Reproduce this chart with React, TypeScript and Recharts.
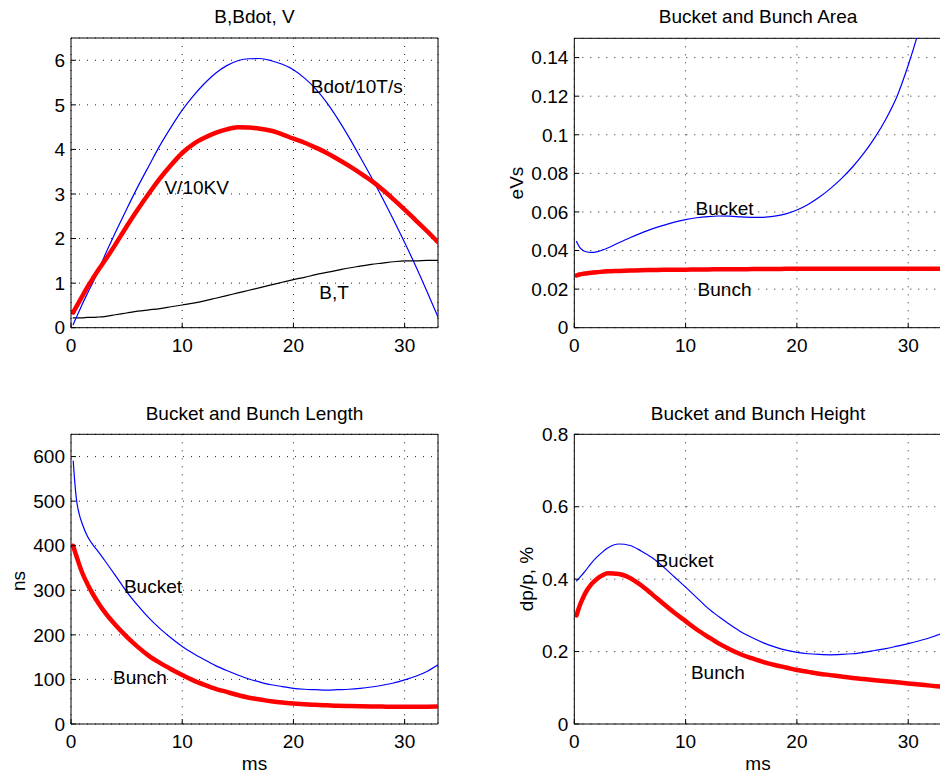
import React from 'react';
import { LineChart, Line, XAxis, YAxis, CartesianGrid, ReferenceDot, ReferenceLine } from 'recharts';

// time samples, ms
const timeMs = [0.2, 0.3, 0.5, 0.75, 1, 1.5, 2, 2.5, 3, 4, 5, 6, 7, 8, 9, 10, 11, 12, 13, 14, 15, 16, 17, 18, 19, 20, 21, 22, 23, 24, 25, 26, 27, 28, 29, 30, 31, 32, 33];

// Panel 1: B, Bdot, V
const bdotOver10 = [0.07, 0.13, 0.24, 0.38, 0.52, 0.78, 1.03, 1.31, 1.6, 2.14, 2.66, 3.16, 3.63, 4.09, 4.5, 4.88, 5.2, 5.48, 5.71, 5.88, 5.99, 6.035, 6.04, 5.99, 5.91, 5.79, 5.6, 5.36, 5.05, 4.68, 4.27, 3.83, 3.38, 2.91, 2.42, 1.91, 1.38, 0.82, 0.24];
const voltOver10k = [0.34, 0.39, 0.48, 0.59, 0.7, 0.92, 1.12, 1.31, 1.49, 1.87, 2.27, 2.65, 3.01, 3.35, 3.65, 3.92, 4.12, 4.26, 4.37, 4.45, 4.495, 4.49, 4.465, 4.42, 4.34, 4.24, 4.15, 4.04, 3.92, 3.78, 3.63, 3.47, 3.3, 3.1, 2.88, 2.65, 2.41, 2.17, 1.92];
const bFieldT = [0.22, 0.22, 0.22, 0.22, 0.22, 0.23, 0.23, 0.24, 0.25, 0.29, 0.33, 0.37, 0.4, 0.43, 0.47, 0.51, 0.55, 0.6, 0.66, 0.72, 0.78, 0.84, 0.9, 0.96, 1.02, 1.08, 1.13, 1.19, 1.24, 1.29, 1.34, 1.38, 1.42, 1.45, 1.48, 1.5, 1.5, 1.51, 1.51];

// Panel 2: bucket and bunch area, eVs
const bucketArea = [0.0447, 0.0435, 0.0415, 0.0402, 0.0395, 0.039, 0.0393, 0.0402, 0.0413, 0.044, 0.0466, 0.049, 0.0512, 0.053, 0.0547, 0.056, 0.057, 0.0576, 0.0579, 0.0578, 0.0574, 0.0572, 0.0572, 0.0578, 0.059, 0.061, 0.0639, 0.0676, 0.0721, 0.0773, 0.0833, 0.0903, 0.0985, 0.1082, 0.12, 0.136, 0.155, 0.178, 0.204];
const bunchArea = [0.0271, 0.0273, 0.0276, 0.0279, 0.0281, 0.0285, 0.0288, 0.029, 0.0292, 0.0294, 0.0296, 0.0298, 0.0299, 0.03, 0.0301, 0.0301, 0.0302, 0.0302, 0.0303, 0.0303, 0.0303, 0.0304, 0.0304, 0.0304, 0.0305, 0.0305, 0.0305, 0.0305, 0.0306, 0.0306, 0.0306, 0.0306, 0.0306, 0.0306, 0.0306, 0.0306, 0.0306, 0.0306, 0.0306];

// Panel 3: bucket and bunch length, ns
const bucketLength = [590, 555, 502, 470, 450, 420, 401, 385, 368, 333, 297, 266, 238, 214, 193, 174, 158, 144, 131, 120, 110, 101, 94, 88, 84, 80, 78, 77, 76, 77, 78, 80, 83, 87, 92, 99, 107, 118, 133];
const bunchLength = [400, 391, 376, 357, 340, 313, 290, 270, 252, 222, 196, 173, 153, 137, 123, 110, 98, 88, 79, 72, 65, 59, 55, 51, 48, 46, 44.5, 43, 42, 41, 40.5, 40, 39.5, 39, 38.5, 38.5, 38.5, 38.8, 39];

// Panel 4: bucket and bunch height, dp/p %
const bucketHeight = [0.395, 0.398, 0.405, 0.414, 0.423, 0.443, 0.46, 0.474, 0.486, 0.497, 0.493, 0.478, 0.459, 0.434, 0.406, 0.378, 0.349, 0.32, 0.296, 0.274, 0.254, 0.238, 0.224, 0.213, 0.204, 0.198, 0.194, 0.192, 0.191, 0.192, 0.194, 0.198, 0.203, 0.208, 0.215, 0.222, 0.23, 0.239, 0.25];
const bunchHeight = [0.3, 0.31, 0.328, 0.346, 0.362, 0.385, 0.4, 0.41, 0.416, 0.414, 0.403, 0.383, 0.358, 0.332, 0.307, 0.284, 0.261, 0.241, 0.222, 0.206, 0.192, 0.181, 0.171, 0.163, 0.156, 0.149, 0.144, 0.139, 0.135, 0.131, 0.127, 0.124, 0.121, 0.118, 0.115, 0.112, 0.109, 0.106, 0.103];

// ticks
const xTicks = [0, 10, 20, 30];
const fieldTicks = [0, 1, 2, 3, 4, 5, 6];
const areaTicks = [0, 0.02, 0.04, 0.06, 0.08, 0.1, 0.12, 0.14];
const lengthTicks = [0, 100, 200, 300, 400, 500, 600];
const heightTicks = [0, 0.2, 0.4, 0.6, 0.8];

const X_MAX = 33;
const FONT = "'Liberation Sans', Arial, Helvetica, sans-serif";
const FS = 19;

function buildRows(cols: Record<string, number[]>) {
  return timeMs.map((t, i) => {
    const row: Record<string, number> = { t };
    Object.keys(cols).forEach((k) => {
      row[k] = cols[k][i];
    });
    return row;
  });
}

type Series = { key: string; color: string; width: number };
type Note = { text: string; t: number; v: number };

function Panel(props: {
  left: number;
  top: number;
  width: number;
  height: number;
  plot: { l: number; t: number; r: number; b: number };
  yDomain: [number, number];
  yTicks: number[];
  data: Record<string, number>[];
  series: Series[];
  notes: Note[];
}) {
  const { left, top, width, height, plot, yDomain, yTicks, data, series, notes } = props;
  const margin = { top: plot.t - top, right: left + width - plot.r, left: 0, bottom: 0 };
  const yWidth = plot.l - left;
  const xHeight = top + height - plot.b;
  const tickStyle = { fill: '#000', fontSize: FS, fontFamily: FONT };
  return (
    <div style={{ position: 'absolute', left, top, width, height }}>
      <LineChart width={width} height={height} data={data} margin={margin}>
        <CartesianGrid stroke="#222" strokeDasharray="1 7" />
        <XAxis
          dataKey="t"
          type="number"
          domain={[0, X_MAX]}
          ticks={xTicks}
          interval={0}
          allowDataOverflow
          height={xHeight}
          tickSize={-5}
          tickMargin={15.5}
          axisLine={{ stroke: '#000' }}
          tickLine={{ stroke: '#000' }}
          tick={tickStyle}
        />
        <YAxis
          type="number"
          domain={yDomain}
          ticks={yTicks}
          interval={0}
          allowDataOverflow
          width={yWidth}
          tickSize={-5}
          tickMargin={11}
          axisLine={{ stroke: '#000' }}
          tickLine={{ stroke: '#000' }}
          tick={tickStyle}
        />
        <ReferenceLine y={yDomain[1]} stroke="#000" strokeWidth={1} ifOverflow="visible" />
        <ReferenceLine x={X_MAX} stroke="#000" strokeWidth={1} ifOverflow="visible" />
        {series.map((s) => (
          <Line
            key={s.key}
            dataKey={s.key}
            type="monotone"
            stroke={s.color}
            strokeWidth={s.width}
            strokeLinecap="round"
            dot={false}
            activeDot={false}
            isAnimationActive={false}
          />
        ))}
        {notes.map((n) => (
          <ReferenceDot
            key={n.text}
            x={n.t}
            y={n.v}
            r={0}
            fill="none"
            stroke="none"
            label={{ value: n.text, position: 'center', fill: '#000', fontSize: FS, fontFamily: FONT }}
          />
        ))}
      </LineChart>
    </div>
  );
}

const fieldRows = buildRows({ b: bFieldT, bdot: bdotOver10, v: voltOver10k });
const areaRows = buildRows({ bucket: bucketArea, bunch: bunchArea });
const lengthRows = buildRows({ bucket: bucketLength, bunch: bunchLength });
const heightRows = buildRows({ bucket: bucketHeight, bunch: bunchHeight });

const BLUE = '#0000ff';
const RED = '#ff0000';

export default function App() {
  const textStyle = { fontFamily: FONT, fontSize: FS, fill: '#000' } as React.CSSProperties;
  return (
    <div style={{ position: 'fixed', left: 0, top: 0, width: 940, height: 777, overflow: 'hidden', background: '#fff' }}>
      <Panel
        left={0}
        top={0}
        width={470}
        height={380}
        plot={{ l: 71, t: 38, r: 438, b: 327.7 }}
        yDomain={[0, 6.5]}
        yTicks={fieldTicks}
        data={fieldRows}
        series={[
          { key: 'b', color: '#000', width: 1.2 },
          { key: 'bdot', color: BLUE, width: 1.2 },
          { key: 'v', color: RED, width: 4.5 },
        ]}
        notes={[
          { text: 'Bdot/10T/s', t: 25.7, v: 5.41 },
          { text: 'V/10KV', t: 11.3, v: 3.16 },
          { text: 'B,T', t: 23.65, v: 0.8 },
        ]}
      />
      <Panel
        left={470}
        top={0}
        width={480}
        height={380}
        plot={{ l: 574.3, t: 38.3, r: 941.6, b: 327.7 }}
        yDomain={[0, 0.15]}
        yTicks={areaTicks}
        data={areaRows}
        series={[
          { key: 'bucket', color: BLUE, width: 1.2 },
          { key: 'bunch', color: RED, width: 4.5 },
        ]}
        notes={[
          { text: 'Bucket', t: 13.5, v: 0.062 },
          { text: 'Bunch', t: 13.5, v: 0.02 },
        ]}
      />
      <Panel
        left={0}
        top={390}
        width={470}
        height={380}
        plot={{ l: 71, t: 434.3, r: 438, b: 724 }}
        yDomain={[0, 650]}
        yTicks={lengthTicks}
        data={lengthRows}
        series={[
          { key: 'bucket', color: BLUE, width: 1.2 },
          { key: 'bunch', color: RED, width: 4.5 },
        ]}
        notes={[
          { text: 'Bucket', t: 7.37, v: 308 },
          { text: 'Bunch', t: 6.2, v: 105.6 },
        ]}
      />
      <Panel
        left={470}
        top={390}
        width={480}
        height={380}
        plot={{ l: 574.3, t: 434.3, r: 941.6, b: 724 }}
        yDomain={[0, 0.8]}
        yTicks={heightTicks}
        data={heightRows}
        series={[
          { key: 'bucket', color: BLUE, width: 1.2 },
          { key: 'bunch', color: RED, width: 4.5 },
        ]}
        notes={[
          { text: 'Bucket', t: 9.9, v: 0.453 },
          { text: 'Bunch', t: 12.9, v: 0.144 },
        ]}
      />
      <svg width={940} height={777} style={{ position: 'absolute', left: 0, top: 0, pointerEvents: 'none' }}>
        <text x={254.5} y={23.3} textAnchor="middle" style={textStyle}>B,Bdot, V</text>
        <text x={758} y={23.3} textAnchor="middle" style={textStyle}>Bucket and Bunch Area</text>
        <text x={254.5} y={420} textAnchor="middle" style={textStyle}>Bucket and Bunch Length</text>
        <text x={758} y={420} textAnchor="middle" style={textStyle}>Bucket and Bunch Height</text>
        <text x={254.5} y={770} textAnchor="middle" style={textStyle}>ms</text>
        <text x={758} y={770} textAnchor="middle" style={textStyle}>ms</text>
        <text transform="translate(25,581) rotate(-90)" textAnchor="middle" style={textStyle}>ns</text>
        <text transform="translate(522.7,183) rotate(-90)" textAnchor="middle" style={textStyle}>eVs</text>
        <text transform="translate(532.7,579) rotate(-90)" textAnchor="middle" style={textStyle}>dp/p, %</text>
      </svg>
    </div>
  );
}
